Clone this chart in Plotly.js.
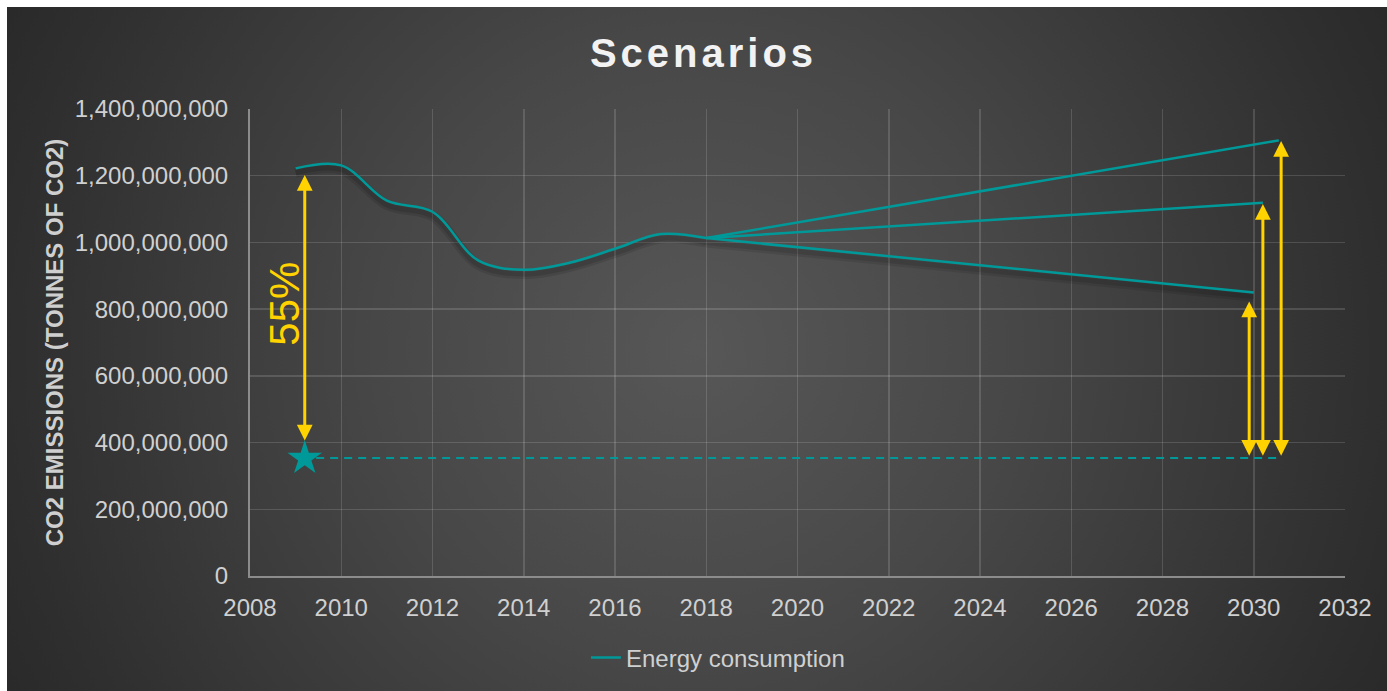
<!DOCTYPE html>
<html>
<head>
<meta charset="utf-8">
<script src="https://cdn.plot.ly/plotly-3.0.1.min.js"></script>
<style>
  html, body { margin: 0; padding: 0; background: #ffffff; width: 1387px; height: 691px; overflow: hidden; }
  #wrap {
    position: absolute; left: 7px; top: 7px; width: 1380px; height: 684px;
    background: radial-gradient(circle at 50% 50%, #575757 0px, #4d4d4d 200px, #474747 320px, #2f2f2f 680px, #282828 800px);
  }
  #chart { width: 1380px; height: 684px; }
</style>
</head>
<body>
<div id="wrap"><div id="chart"></div></div>
<script>
// ---- data ----
const histYears = [2009, 2010, 2011, 2012, 2013, 2014, 2015, 2016, 2017, 2018];
const histValues = [1222000000, 1231000000, 1125000000, 1092000000, 946000000, 918000000, 939000000, 981000000, 1025000000, 1013000000];

const lowYears = [2018, 2030.0];
const lowValues = [1013000000, 850000000];
const midYears = [2018, 2030.2];
const midValues = [1013000000, 1119000000];
const highYears = [2018, 2030.55];
const highValues = [1013000000, 1306000000];

const targetYear = [2009.2];
const targetValue = [353000000];
const targetLineYears = [2009.45, 2030.55];
const targetLineValues = [354000000, 354000000];

const arrowX = [2009.2, 2029.9, 2030.2, 2030.6];
const arrowTop = [1202000000, 823000000, 1115000000, 1304000000];
const arrowBottom = [402000000, 356000000, 356000000, 356000000];

const pctLabel = '55%';
const pctX = 2008.75;
const pctY = 817000000;

const xTicks = [2008, 2010, 2012, 2014, 2016, 2018, 2020, 2022, 2024, 2026, 2028, 2030, 2032];
const yTicks = [0, 200000000, 400000000, 600000000, 800000000, 1000000000, 1200000000, 1400000000];

// ---- styles ----
const teal = '#009999';
const yellow = '#FFD200';
const FONT = '"Liberation Sans", Arial, sans-serif';
const shadowOffset = 13000000;
const shadow = v => v.map(d => d - shadowOffset);

const traces = [
  { x: histYears, y: shadow(histValues), mode: 'lines', line: { color: 'rgba(0,0,0,0.10)', width: 10, shape: 'spline', smoothing: 1 }, showlegend: false, hoverinfo: 'skip' },
  { x: histYears, y: shadow(histValues), mode: 'lines', line: { color: 'rgba(0,0,0,0.12)', width: 5, shape: 'spline', smoothing: 1 }, showlegend: false, hoverinfo: 'skip' },
  { x: lowYears, y: shadow(lowValues), mode: 'lines', line: { color: 'rgba(0,0,0,0.09)', width: 10 }, showlegend: false, hoverinfo: 'skip' },
  { x: lowYears, y: shadow(lowValues), mode: 'lines', line: { color: 'rgba(0,0,0,0.10)', width: 5 }, showlegend: false, hoverinfo: 'skip' },
  { x: histYears, y: histValues, mode: 'lines', name: 'Energy consumption', line: { color: teal, width: 2.5, shape: 'spline', smoothing: 1 } },
  { x: lowYears, y: lowValues, mode: 'lines', line: { color: teal, width: 2.5 }, showlegend: false },
  { x: midYears, y: midValues, mode: 'lines', line: { color: teal, width: 2.5 }, showlegend: false },
  { x: highYears, y: highValues, mode: 'lines', line: { color: teal, width: 2.5 }, showlegend: false },
  { x: targetLineYears, y: targetLineValues, mode: 'lines', line: { color: teal, width: 2, dash: '8px,6px' }, showlegend: false },
  { x: targetYear, y: targetValue, mode: 'markers', marker: { symbol: 'star', size: 26, color: teal, line: { width: 0 } }, showlegend: false }
];

const annotations = arrowX.map((x, i) => ({
  x: x, y: arrowTop[i], ax: x, ay: arrowBottom[i],
  xref: 'x', yref: 'y', axref: 'x', ayref: 'y',
  text: '', showarrow: true, arrowside: 'end+start',
  arrowhead: 2, startarrowhead: 2, arrowsize: 1.05, startarrowsize: 1.05,
  arrowwidth: 3, arrowcolor: yellow, standoff: 0, startstandoff: 0
}));
annotations.push({
  x: pctX, y: pctY, xref: 'x', yref: 'y', text: pctLabel, showarrow: false,
  textangle: -90, xanchor: 'center', yanchor: 'middle',
  font: { family: FONT, size: 42, color: yellow }
});

const layout = {
  width: 1380, height: 684,
  paper_bgcolor: 'rgba(0,0,0,0)', plot_bgcolor: 'rgba(0,0,0,0)',
  margin: { l: 243, r: 42, t: 102, b: 114 },
  font: { family: FONT, color: '#D0D0D0' },
  title: {
    text: 'Scenarios', x: 0.5047, xanchor: 'center', y: 0.933, yref: 'container', yanchor: 'middle',
    font: { family: FONT, size: 40, weight: 'bold', color: '#F2F2F2' }
  },
  xaxis: {
    range: [2008, 2032], tickvals: xTicks, ticktext: xTicks.map(String),
    showgrid: true, gridcolor: 'rgba(255,255,255,0.14)', gridwidth: 1.5,
    showline: true, linecolor: '#8C8C8C', linewidth: 2, zeroline: false,
    ticks: '', ticklabelstandoff: 9,
    tickfont: { family: FONT, size: 24, color: '#D0D0D0' }
  },
  yaxis: {
    range: [0, 1400000000], tickvals: yTicks, tickformat: ',d',
    showgrid: true, gridcolor: 'rgba(255,255,255,0.14)', gridwidth: 1.5,
    showline: true, linecolor: '#8C8C8C', linewidth: 2, zeroline: false,
    ticks: '', ticklabelstandoff: 15,
    tickfont: { family: FONT, size: 24, color: '#D0D0D0' },
    title: { text: 'CO2 EMISSIONS (TONNES OF CO2)', standoff: 4, font: { family: FONT, size: 24, weight: 'bold', color: '#CFCFCF' } }
  },
  showlegend: true,
  legend: {
    orientation: 'h', x: 0.3068, xanchor: 'left', y: -0.125, yanchor: 'top', yref: 'paper',
    font: { family: FONT, size: 24, color: '#D0D0D0' }, bgcolor: 'rgba(0,0,0,0)'
  },
  annotations: annotations,
  separators: '.,'
};

Plotly.newPlot('chart', traces, layout, { displayModeBar: false, staticPlot: true }).then(() => {
  const t = document.querySelector('#chart .gtitle');
  if (t) t.style.letterSpacing = '4px';
});
</script>
</body>
</html>
